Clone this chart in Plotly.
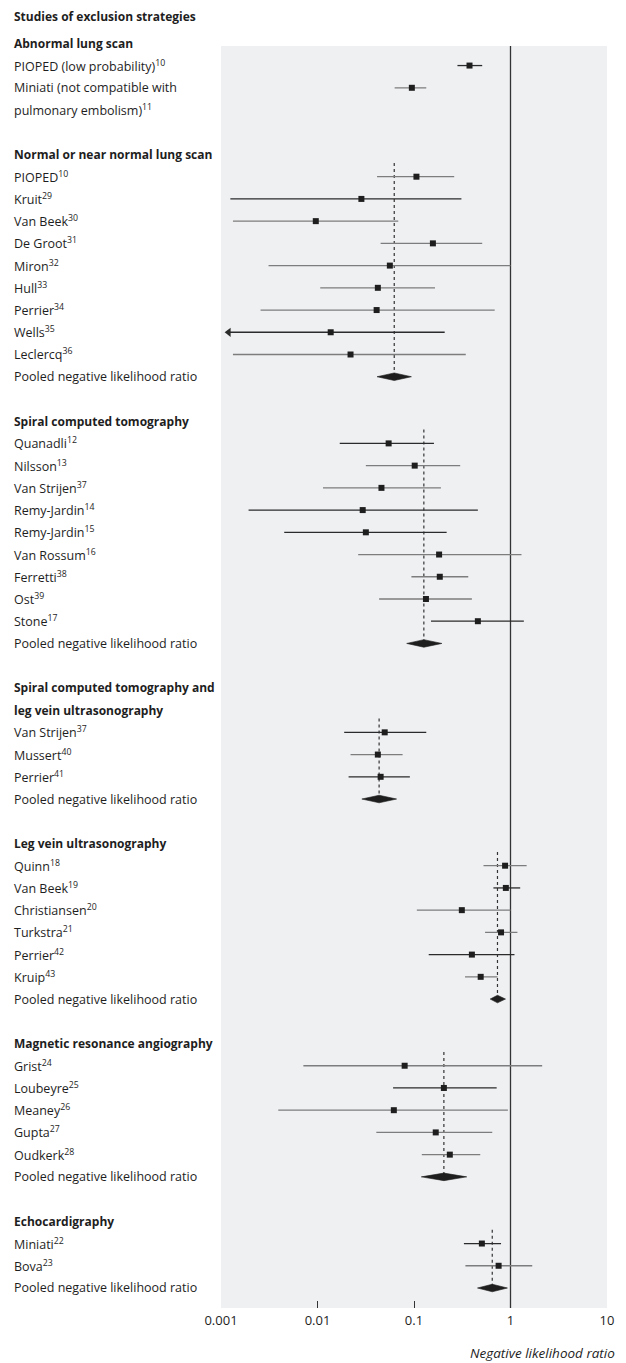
import plotly.graph_objects as go

# ---------------- data ----------------
chart_title = "Studies of exclusion strategies"
sec_titles = [
    "Abnormal lung scan",
    "Normal or near normal lung scan",
    "Spiral computed tomography",
    "Spiral computed tomography and\nleg vein ultrasonography",
    "Leg vein ultrasonography",
    "Magnetic resonance angiography",
    "Echocardigraphy",
]
names = ["PIOPED (low probability)", "Miniati (not compatible with\npulmonary embolism)",
         "PIOPED", "Kruit", "Van Beek", "De Groot", "Miron", "Hull", "Perrier", "Wells", "Leclercq",
         "Quanadli", "Nilsson", "Van Strijen", "Remy-Jardin", "Remy-Jardin", "Van Rossum", "Ferretti", "Ost", "Stone",
         "Van Strijen", "Mussert", "Perrier",
         "Quinn", "Van Beek", "Christiansen", "Turkstra", "Perrier", "Kruip",
         "Grist", "Loubeyre", "Meaney", "Gupta", "Oudkerk",
         "Miniati", "Bova"]
refs = [10, 11,
        10, 29, 30, 31, 32, 33, 34, 35, 36,
        12, 13, 37, 14, 15, 16, 38, 39, 17,
        37, 40, 41,
        18, 19, 20, 21, 42, 43,
        24, 25, 26, 27, 28,
        22, 23]
group = [0, 0] + [1] * 9 + [2] * 9 + [3] * 3 + [4] * 6 + [5] * 5 + [6] * 2
lr = [0.376, 0.095,
      0.106, 0.0285, 0.0096, 0.157, 0.0562, 0.0422, 0.041, 0.0137, 0.022,
      0.0546, 0.1017, 0.046, 0.0294, 0.0317, 0.182, 0.185, 0.133, 0.459,
      0.0497, 0.0422, 0.0451,
      0.879, 0.895, 0.313, 0.798, 0.398, 0.491,
      0.080, 0.204, 0.0618, 0.168, 0.235,
      0.505, 0.753]
lo = [0.282, 0.063,
      0.0414, 0.00125, 0.00133, 0.0451, 0.00311, 0.01067, 0.00257, 0.0012, 0.00133,
      0.017, 0.0317, 0.0114, 0.00193, 0.00452, 0.0264, 0.094, 0.0435, 0.150,
      0.0189, 0.022, 0.021,
      0.525, 0.665, 0.107, 0.545, 0.142, 0.338,
      0.00714, 0.0607, 0.00392, 0.0407, 0.1205,
      0.329, 0.341]
hi = [0.509, 0.134,
      0.261, 0.310, 0.0687, 0.509, 1.0, 0.165, 0.686, 0.208, 0.344,
      0.161, 0.301, 0.190, 0.459, 0.218, 1.30, 0.365, 0.398, 1.375,
      0.134, 0.0762, 0.0906,
      1.47, 1.26, 1.0, 1.18, 1.10, 0.733,
      2.13, 0.719, 0.94, 0.647, 0.486,
      0.798, 1.68]
truncated_low = ["Wells"]          # lower limit runs off the axis (arrow)
pooled_groups = [1, 2, 3, 4, 5, 6]
pooled_label = "Pooled negative likelihood ratio"
pooled_lr = [0.0624, 0.1265, 0.0435, 0.733, 0.204, 0.647]
pooled_lo = [0.0414, 0.084, 0.0288, 0.616, 0.119, 0.455]
pooled_hi = [0.094, 0.1945, 0.066, 0.887, 0.352, 0.929]
ref_value = 1
tick_vals = [0.001, 0.01, 0.1, 1, 10]
tick_text = ["0.001", "0.01", "0.1", "1", "10"]
x_title = "Negative likelihood ratio"

# ---------------- styles ----------------
dark_rows = [0, 3, 9, 11, 14, 15, 19, 20, 22, 24, 27, 30, 34]
DARK = "#2b2b2b"
GRAY = "#7d7d7d"
TXT = "#1e1e1e"
FONT = "Open Sans"
FS = 12.5
FSB = 12
OFF = 8                     # page body margin offset of the figure
W, H = 626 - OFF, 1363 - OFF
L, R, T, B = 221 - OFF, 19, 46 - OFF, 55
LABEL_PX = 14 - OFF - 2

# ---------------- layout of rows ----------------
slot = 0
header_slots = []   # (text, slot)
study_slot = []
label_lines = []    # (text, slot)
pooled_slot = []
first_study = {}
for g, title in enumerate(sec_titles):
    for line in title.split("\n"):
        header_slots.append((line, slot))
        slot += 1
    for i in [k for k in range(len(names)) if group[k] == g]:
        parts = names[i].split("\n")
        study_slot.append((i, slot))
        first_study.setdefault(g, slot)
        for j, p in enumerate(parts):
            txt = p + (f"<sup>{refs[i]}</sup>" if j == len(parts) - 1 else "")
            label_lines.append((txt, slot))
            slot += 1
    if g in pooled_groups:
        pooled_slot.append((g, slot))
        label_lines.append((pooled_label, slot))
        slot += 1
    slot += 1
last_slot = slot - 2
y_top, y_bot = 0.12, last_slot + 0.9

ys = {i: s for i, s in study_slot}

def paper_y(s):
    return (y_bot - s) / (y_bot - y_top)

fig = go.Figure()

# reference line at 1
fig.add_trace(go.Scatter(x=[ref_value, ref_value], y=[y_top, y_bot], mode="lines",
                         line=dict(color="#333333", width=1.3), hoverinfo="skip", showlegend=False))

# dashed pooled lines
for k, (g, s) in enumerate(pooled_slot):
    fig.add_trace(go.Scatter(x=[pooled_lr[k], pooled_lr[k]], y=[first_study[g] - 0.62, s],
                             mode="lines", line=dict(color="#333333", width=1.2, dash="3px,3px"),
                             hoverinfo="skip", showlegend=False))

# CI lines
for colr, sel in [(GRAY, False), (DARK, True)]:
    xs, yv = [], []
    for i in range(len(names)):
        if (i in dark_rows) == sel:
            xs += [lo[i], hi[i], None]
            yv += [ys[i], ys[i], None]
    fig.add_trace(go.Scatter(x=xs, y=yv, mode="lines", line=dict(color=colr, width=1.3),
                             hoverinfo="skip", showlegend=False))

# arrows for truncated lower limits
arr = [i for i in range(len(names)) if names[i] in truncated_low]
fig.add_trace(go.Scatter(x=[lo[i] for i in arr], y=[ys[i] for i in arr], mode="markers",
                         marker=dict(symbol="triangle-left", size=8, color=DARK),
                         hoverinfo="skip", showlegend=False))

# point estimates
fig.add_trace(go.Scatter(x=lr, y=[ys[i] for i in range(len(names))], mode="markers",
                         marker=dict(symbol="square", size=6, color="#1e1e1e", line=dict(width=0)),
                         showlegend=False))

# pooled diamonds
dh = 0.17
for k, (g, s) in enumerate(pooled_slot):
    fig.add_trace(go.Scatter(x=[pooled_lo[k], pooled_lr[k], pooled_hi[k], pooled_lr[k], pooled_lo[k]],
                             y=[s, s - dh, s, s + dh, s], mode="lines", fill="toself",
                             fillcolor="#1e1e1e", line=dict(color="#1e1e1e", width=0.6),
                             hoverinfo="skip", showlegend=False))

ann = []
pw = W - L - R
ph = H - T - B
lx = (LABEL_PX - L) / pw
for txt, s in header_slots:
    ann.append(dict(x=lx, xref="paper", y=paper_y(s), yref="paper", text=f"<b>{txt}</b>", showarrow=False,
                    xanchor="left", yanchor="middle", font=dict(family=FONT, size=FSB, color=TXT)))
for txt, s in label_lines:
    ann.append(dict(x=lx, xref="paper", y=paper_y(s), yref="paper", text=txt, showarrow=False,
                    xanchor="left", yanchor="middle", font=dict(family=FONT, size=FS, color=TXT)))
ann.append(dict(x=lx, xref="paper", y=1 + (46 - 16) / ph, yref="paper", text=f"<b>{chart_title}</b>",
                showarrow=False, xanchor="left", yanchor="middle", font=dict(family=FONT, size=FSB, color=TXT)))
ann.append(dict(x=(615 - 221) / pw + 2 / pw, xref="paper", y=-(1352.5 - 1307.7) / ph, yref="paper",
                text=x_title, showarrow=False, xanchor="right", yanchor="middle",
                font=dict(family=FONT, size=13.5, color=TXT, style="italic")))

fig.update_layout(
    width=W, height=H, margin=dict(l=L, r=R, t=T, b=B, pad=0),
    paper_bgcolor="white", plot_bgcolor="#eff0f2",
    annotations=ann, showlegend=False,
    xaxis=dict(type="log", range=[-3, 1], tickvals=tick_vals, ticktext=tick_text,
               ticks="inside", ticklen=7, tickwidth=1.2, tickcolor="#333333",
               showgrid=False, zeroline=False, showline=False, ticklabelstandoff=3,
               tickfont=dict(family=FONT, size=13, color=TXT)),
    yaxis=dict(range=[y_bot, y_top], visible=False, showgrid=False, zeroline=False),
)
fig.write_html("out.html")
